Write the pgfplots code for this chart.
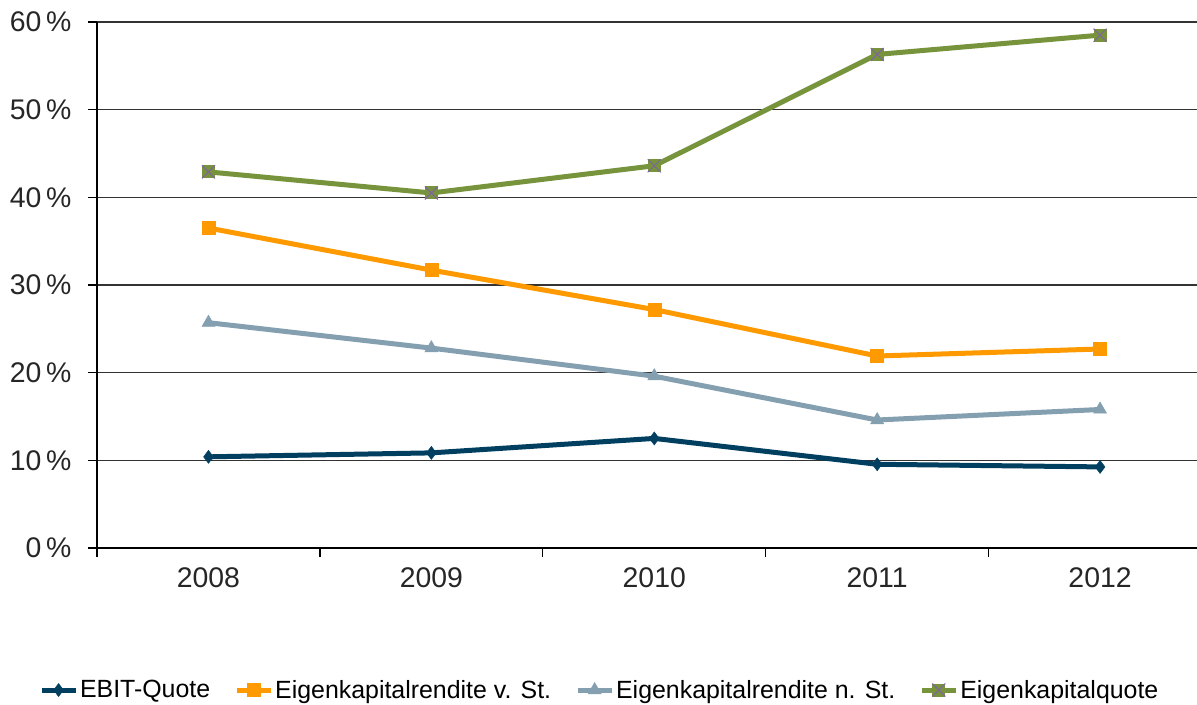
\documentclass[border=0pt]{standalone}
\usepackage{pgfplots}
\pgfplotsset{compat=1.18}
\usepackage{fontspec}
\setmainfont{Liberation Sans}
\definecolor{ebit}{RGB}{0,63,95}
\definecolor{ekvst}{RGB}{255,153,0}
\definecolor{eknst}{RGB}{132,160,176}
\definecolor{ekq}{RGB}{119,147,60}
\definecolor{xcol}{RGB}{128,100,162}
\pgfdeclareplotmark{sqx}{%
  \pgfpathrectangle{\pgfpoint{-\pgfplotmarksize}{-\pgfplotmarksize}}{\pgfpoint{2\pgfplotmarksize}{2\pgfplotmarksize}}%
  \pgfsetfillcolor{ekq}\pgfusepathqfill
  \pgfsetstrokecolor{xcol}\pgfsetlinewidth{1bp}%
  \pgfpathmoveto{\pgfpoint{-\pgfplotmarksize}{-\pgfplotmarksize}}\pgfpathlineto{\pgfpoint{\pgfplotmarksize}{\pgfplotmarksize}}%
  \pgfpathmoveto{\pgfpoint{-\pgfplotmarksize}{\pgfplotmarksize}}\pgfpathlineto{\pgfpoint{\pgfplotmarksize}{-\pgfplotmarksize}}%
  \pgfusepathqstroke}
\begin{document}
\begin{tikzpicture}
\begin{axis}[
  at={(97bp,157bp)}, anchor=south west,
  scale only axis, width=1100bp, height=526bp,
  xmin=-0.5, xmax=4.435, ymin=0, ymax=60,
  axis x line=bottom, axis y line=left,
  axis line style={-, black, line width=1.2bp},
  xtick={0,1,2,3,4},
  xticklabels={2008,2009,2010,2011,2012},
  major x tick style={draw=none},
  minor xtick={-0.5,0.5,1.5,2.5,3.5},
  minor x tick style={black, line width=1.2bp},
  ytick={0,10,...,60},
  y tick style={black, line width=1.2bp},
  tick align=outside,
  major tick length=9bp, minor tick length=9bp,
  yticklabel={\pgfmathprintnumber{\tick}\,\%},
  /pgf/number format/assume math mode=true,
  ticklabel style={font=\fontsize{28.5}{33}\selectfont, text=black!85},
  yticklabel style={xshift=-13bp},
  xticklabel style={yshift=-7bp},
  ymajorgrids,
  major grid style={black!80, line width=1.2bp},
  clip=false,
  legend columns=4,
  legend style={at={(0.457,-0.27)}, anchor=center, draw=none, fill=none,
    font=\fontsize{25}{29}\selectfont, inner sep=0pt,
    /tikz/every even column/.append style={column sep=22bp}},
  legend cell align=left,
  legend image code/.code={%
    \draw[mark repeat=2,mark phase=2] plot coordinates {(0bp,0bp)(17bp,0bp)(34bp,0bp)};},
  every axis plot/.append style={line width=5bp},
]
\addplot[ebit, mark=diamond*, mark size=6.5bp, mark options={line width=0.5bp}]
  coordinates {(0,10.4) (1,10.85) (2,12.5) (3,9.55) (4,9.25)};
\addlegendentry{EBIT-Quote}
\addplot[ekvst, mark=square*, mark size=6.5bp, mark options={line width=0.5bp}]
  coordinates {(0,36.5) (1,31.7) (2,27.2) (3,21.9) (4,22.7)};
\addlegendentry{Eigenkapitalrendite v. St.}
\addplot[eknst, mark=triangle*, mark size=7.5bp, mark options={line width=0.5bp}]
  coordinates {(0,25.7) (1,22.8) (2,19.6) (3,14.6) (4,15.8)};
\addlegendentry{Eigenkapitalrendite n. St.}
\addplot[ekq, mark=sqx, mark size=6.5bp]
  coordinates {(0,42.9) (1,40.5) (2,43.6) (3,56.3) (4,58.5)};
\addlegendentry{Eigenkapitalquote}
\end{axis}
\pgfresetboundingbox
\useasboundingbox (0,0) rectangle (1197bp,705bp);
\end{tikzpicture}
\end{document}
